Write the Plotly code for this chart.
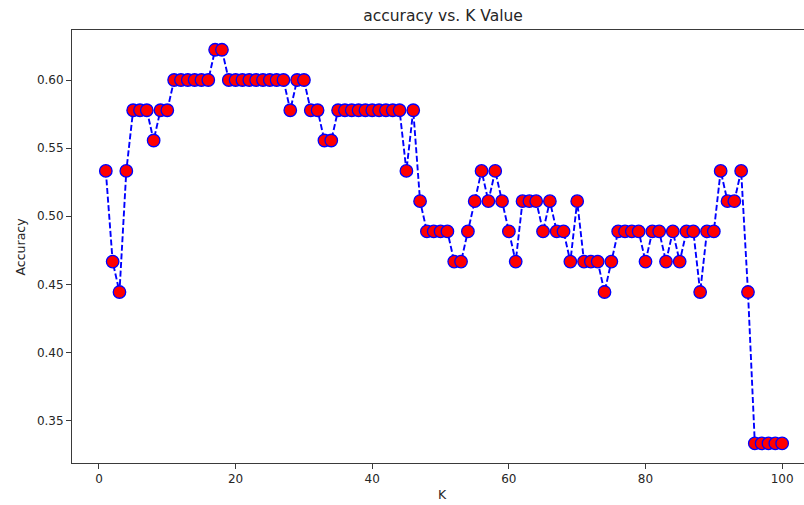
import plotly.graph_objects as go

# K values tried and the resulting accuracy for each
k_values = list(range(1, 101))
accuracy = [
    0.5333, 0.4667, 0.4444, 0.5333, 0.5778, 0.5778, 0.5778, 0.5556, 0.5778, 0.5778,
    0.6000, 0.6000, 0.6000, 0.6000, 0.6000, 0.6000, 0.6222, 0.6222, 0.6000, 0.6000,
    0.6000, 0.6000, 0.6000, 0.6000, 0.6000, 0.6000, 0.6000, 0.5778, 0.6000, 0.6000,
    0.5778, 0.5778, 0.5556, 0.5556, 0.5778, 0.5778, 0.5778, 0.5778, 0.5778, 0.5778,
    0.5778, 0.5778, 0.5778, 0.5778, 0.5333, 0.5778, 0.5111, 0.4889, 0.4889, 0.4889,
    0.4889, 0.4667, 0.4667, 0.4889, 0.5111, 0.5333, 0.5111, 0.5333, 0.5111, 0.4889,
    0.4667, 0.5111, 0.5111, 0.5111, 0.4889, 0.5111, 0.4889, 0.4889, 0.4667, 0.5111,
    0.4667, 0.4667, 0.4667, 0.4444, 0.4667, 0.4889, 0.4889, 0.4889, 0.4889, 0.4667,
    0.4889, 0.4889, 0.4667, 0.4889, 0.4667, 0.4889, 0.4889, 0.4444, 0.4889, 0.4889,
    0.5333, 0.5111, 0.5111, 0.5333, 0.4444, 0.3333, 0.3333, 0.3333, 0.3333, 0.3333,
]

x_ticks = [0, 20, 40, 60, 80, 100]
y_ticks = [0.35, 0.40, 0.45, 0.50, 0.55, 0.60]
y_tick_text = ["0.35", "0.40", "0.45", "0.50", "0.55", "0.60"]

FONT = "DejaVu Sans"
TEXT = "#262626"
SPINE = "#3a3a3a"

fig = go.Figure(
    go.Scatter(
        x=k_values,
        y=accuracy,
        mode="lines+markers",
        line=dict(color="#0000ff", width=1.9, dash="6px,2.6px"),
        marker=dict(size=12.5, color="#ff0000", line=dict(color="#0000ff", width=1.3)),
        hoverinfo="skip",
    )
)

fig.update_layout(
    width=804,
    height=505,
    margin=dict(l=72, r=0, t=30, b=42),
    paper_bgcolor="white",
    plot_bgcolor="white",
    showlegend=False,
    font=dict(family=FONT, size=12, color=TEXT),
    title=dict(
        text="accuracy vs. K Value",
        font=dict(family=FONT, size=15.5, color=TEXT),
        x=(443 - 72) / 732,
        xref="paper",
        xanchor="center",
        y=1 - 16 / 505,
        yref="container",
        yanchor="middle",
    ),
    xaxis=dict(
        range=[-3.95, 103.2],
        tickvals=x_ticks,
        ticks="outside",
        ticklen=5,
        tickwidth=1,
        tickcolor=SPINE,
        showline=True,
        linecolor=SPINE,
        linewidth=1,
        mirror=True,
        showgrid=False,
        zeroline=False,
        tickfont=dict(family=FONT, size=12, color=TEXT),
    ),
    yaxis=dict(
        range=[0.3189, 0.6367],
        tickvals=y_ticks,
        ticktext=y_tick_text,
        ticks="outside",
        ticklen=5,
        tickwidth=1,
        tickcolor=SPINE,
        showline=True,
        linecolor=SPINE,
        linewidth=1,
        showgrid=False,
        zeroline=False,
        tickfont=dict(family=FONT, size=12, color=TEXT),
    ),
    annotations=[
        dict(
            text="K",
            xref="paper", yref="paper",
            x=(442 - 72) / 732, y=-(494 - 463) / 433,
            xanchor="center", yanchor="middle",
            showarrow=False,
            font=dict(family=FONT, size=12.5, color=TEXT),
        ),
        dict(
            text="Accuracy",
            xref="paper", yref="paper",
            x=-(72 - 20) / 732, y=0.5,
            xanchor="center", yanchor="middle",
            textangle=-90,
            showarrow=False,
            font=dict(family=FONT, size=12.5, color=TEXT),
        ),
    ],
)

fig.write_html("out.html")
